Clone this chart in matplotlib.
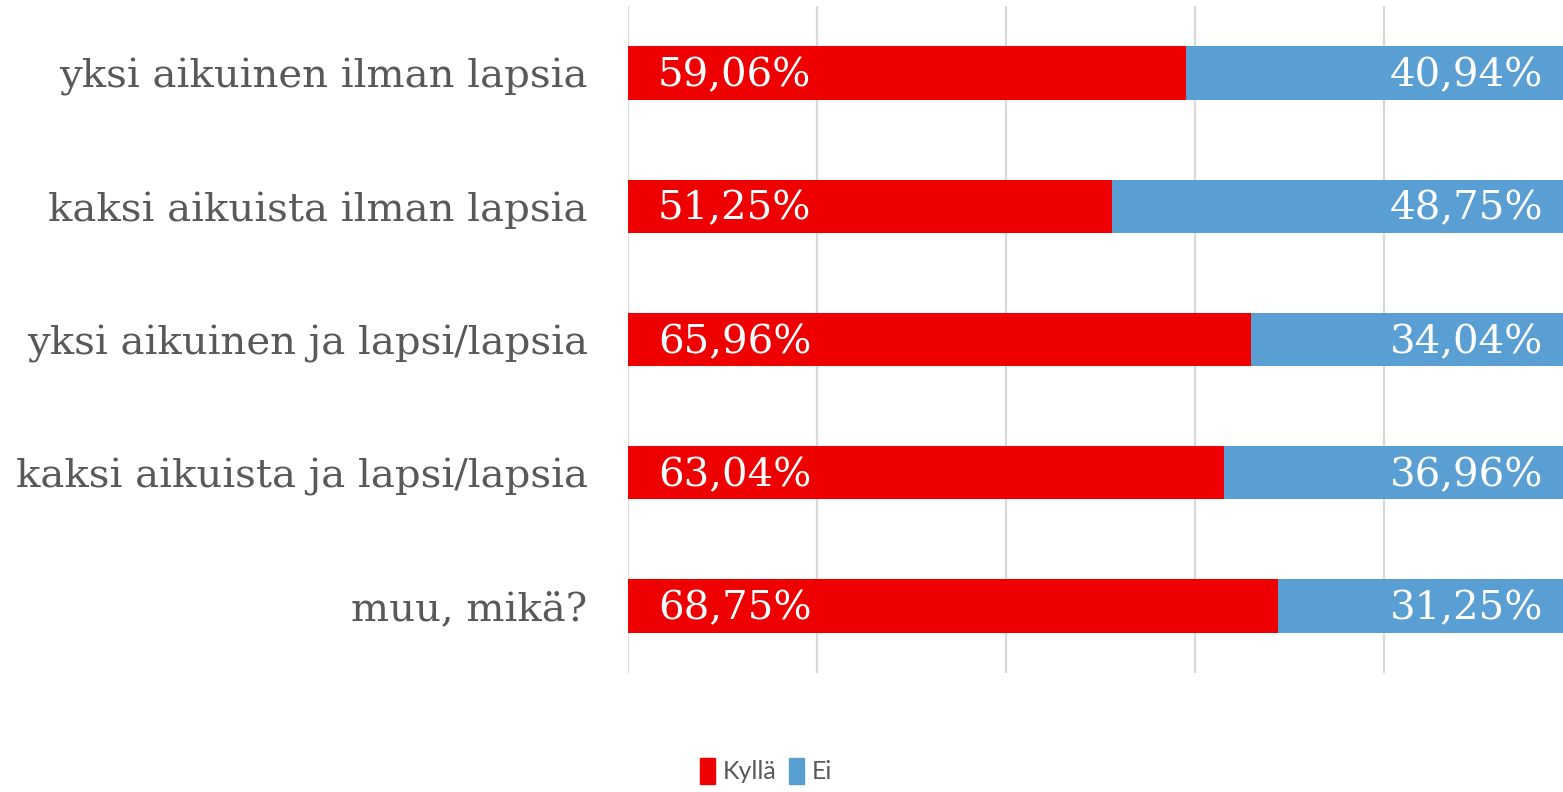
import matplotlib
matplotlib.use("Agg")
import matplotlib.pyplot as plt
from matplotlib.patches import Patch

categories = ["yksi aikuinen ilman lapsia", "kaksi aikuista ilman lapsia",
              "yksi aikuinen ja lapsi/lapsia", "kaksi aikuista ja lapsi/lapsia",
              "muu, mikä?"]
kylla = [59.06, 51.25, 65.96, 63.04, 68.75]
ei = [40.94, 48.75, 34.04, 36.96, 31.25]
series_names = ["Kyllä", "Ei"]
xticks = [0, 20, 40, 60, 80, 100]

RED = "#EE0000"
BLUE = "#5A9FD4"
W, H = 1563, 792
fig = plt.figure(figsize=(W/100, H/100), dpi=100)
left = 628/W
width = 945/W
top_px, bot_px = 6.4, 672.6
ax = fig.add_axes([left, 1 - bot_px/H, width, (bot_px - top_px)/H])
ax.set_xlim(0, 100)
ax.set_ylim(len(categories) - 0.5, -0.5)

for x in xticks:
    ax.axvline(x, color="#D9D9D9", lw=1.6, zorder=0)

y = list(range(len(categories)))
ax.barh(y, kylla, height=0.4, color=RED, zorder=2)
ax.barh(y, ei, left=kylla, height=0.4, color=BLUE, zorder=2)

fmt = lambda v: f"{v:.2f}".replace(".", ",") + "%"
for i in y:
    ax.annotate(fmt(kylla[i]), xy=(0, i), xytext=(30, -3), textcoords="offset pixels",
                ha="left", va="center", color="white", fontsize=29,
                family="DejaVu Serif", zorder=3)
    ax.annotate(fmt(ei[i]), xy=(kylla[i] + ei[i], i), xytext=(-30, -3), textcoords="offset pixels",
                ha="right", va="center", color="white", fontsize=29,
                family="DejaVu Serif", zorder=3)

ax.set_yticks(y)
ax.set_yticklabels(categories, family="DejaVu Serif", fontsize=29, color="#595959")
ax.tick_params(axis="y", length=0, pad=29)
ax.set_xticks([])
for s in ax.spines.values():
    s.set_visible(False)

handles = [Patch(color=RED, label=series_names[0]), Patch(color=BLUE, label=series_names[1])]
fig.legend(handles=handles, loc="center", bbox_to_anchor=(766/W, 1 - 771/H), ncol=2,
           frameon=False, prop={"family": "Lato", "size": 18},
           labelcolor="#595959",
           handlelength=0.6, handleheight=1.2, handletextpad=0.3, columnspacing=0.5)

fig.savefig("out.png", dpi=100)
